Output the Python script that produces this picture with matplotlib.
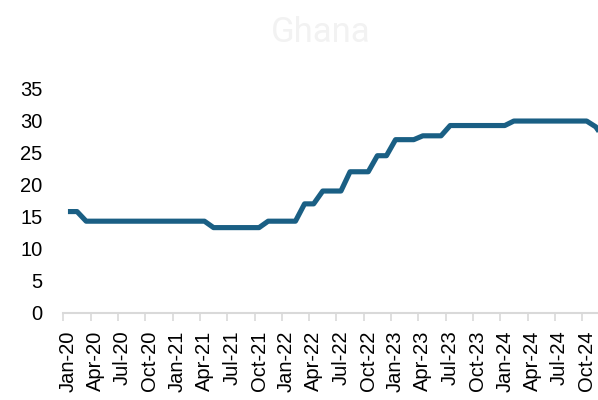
import numpy as np
import matplotlib.pyplot as plt

# monthly series, Jan-20 .. Dec-24
months = ["Jan-20", "Feb-20", "Mar-20", "Apr-20", "May-20", "Jun-20", "Jul-20", "Aug-20", "Sep-20", "Oct-20", "Nov-20", "Dec-20",
          "Jan-21", "Feb-21", "Mar-21", "Apr-21", "May-21", "Jun-21", "Jul-21", "Aug-21", "Sep-21", "Oct-21", "Nov-21", "Dec-21",
          "Jan-22", "Feb-22", "Mar-22", "Apr-22", "May-22", "Jun-22", "Jul-22", "Aug-22", "Sep-22", "Oct-22", "Nov-22", "Dec-22",
          "Jan-23", "Feb-23", "Mar-23", "Apr-23", "May-23", "Jun-23", "Jul-23", "Aug-23", "Sep-23", "Oct-23", "Nov-23", "Dec-23",
          "Jan-24", "Feb-24", "Mar-24", "Apr-24", "May-24", "Jun-24", "Jul-24", "Aug-24", "Sep-24", "Oct-24", "Nov-24", "Dec-24"]
rate = [15.8, 15.8, 14.3, 14.3, 14.3, 14.3, 14.3, 14.3, 14.3, 14.3, 14.3, 14.3,
        14.3, 14.3, 14.3, 14.3, 13.3, 13.3, 13.3, 13.3, 13.3, 13.3, 14.3, 14.3,
        14.3, 14.3, 17.0, 17.0, 19.0, 19.0, 19.0, 22.0, 22.0, 22.0, 24.5, 24.5,
        27.0, 27.0, 27.0, 27.6, 27.6, 27.6, 29.2, 29.2, 29.2, 29.2, 29.2, 29.2,
        29.2, 29.9, 29.9, 29.9, 29.9, 29.9, 29.9, 29.9, 29.9, 29.9, 29.0, 27.0]
yticks = [0, 5, 10, 15, 20, 25, 30, 35]

plt.rcParams['font.family'] = ['Liberation Sans', 'DejaVu Sans']

fig = plt.figure(figsize=(5.98, 4.0), dpi=100)
# plot area runs past the right edge, like the cropped original
ax = fig.add_axes([63.4 / 598, 1 - 313 / 400, 546 / 598, (313 - 88.3) / 400])

x = np.arange(len(rate))
ax.plot(x, rate, color="#1a5f84", lw=3.7, solid_joinstyle="round", solid_capstyle="butt", clip_on=False)

ax.set_xlim(-0.5, len(rate) - 0.5)
ax.set_ylim(0, 35)
ax.set_yticks(yticks)
ax.tick_params(axis="y", length=0, pad=15, labelsize=14.5)

# labels at category centres, tick marks on category boundaries
ax.set_xticks(x[::3])
ax.set_xticklabels(months[::3], rotation=90)
ax.set_xticks(x[::3] - 0.5, minor=True)
ax.tick_params(axis="x", which="major", length=0, pad=12.5, labelsize=14.5)
ax.tick_params(axis="x", which="minor", length=5.5, width=1.2, color="#d9d9d9")

for s in ["top", "right", "left"]:
    ax.spines[s].set_visible(False)
ax.spines["bottom"].set_color("#d9d9d9")
ax.spines["bottom"].set_linewidth(1.5)

fig.text(320.5 / 598, 1 - 33 / 400, "Ghana", ha="center", va="center",
         fontsize=25, color="#f2f2f2", family=["Roboto", "DejaVu Sans"])

fig.savefig("out.png", dpi=100)
